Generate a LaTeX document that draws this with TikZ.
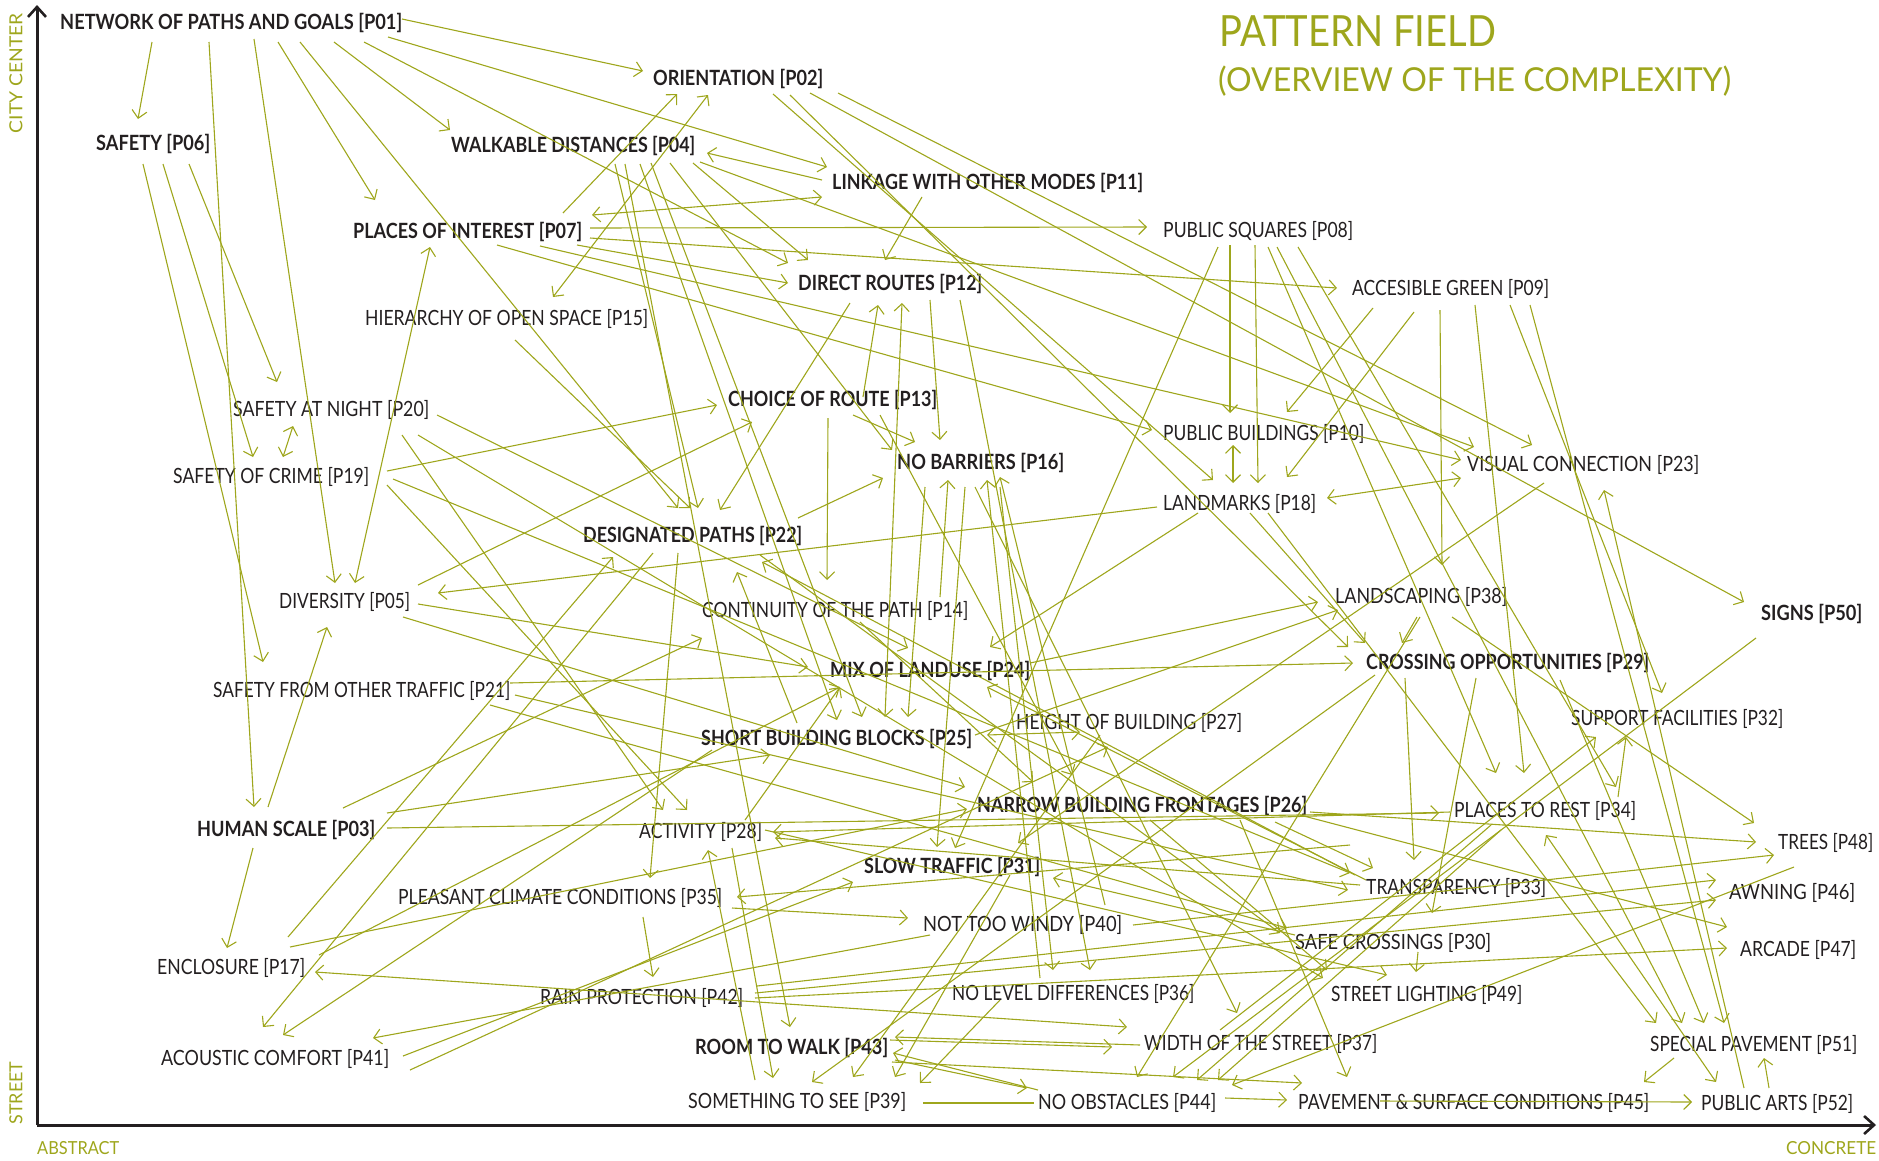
\documentclass[tikz,border=0pt]{standalone}
\usepackage{fontspec}
\setmainfont{Lato}
\usepackage{graphicx}
\usetikzlibrary{arrows.meta}

\definecolor{pfolive}{RGB}{158,166,28}
\definecolor{pftext}{RGB}{35,31,32}

% set a label at its natural height, stretched or squeezed to a given width
\newsavebox\pfbox
\newlength\pfwd
\newcommand\fitto[2]{\sbox\pfbox{#2}\setlength\pfwd{\wd\pfbox}%
  \pgfmathsetmacro\pfscale{#1/\pfwd}\scalebox{\pfscale}[1]{\usebox\pfbox}}

% one-way and two-way links between points of the field
\newcommand\pfa[2]{\draw[link] (#1) -- (#2);}
\newcommand\pfd[2]{\draw[dlink] (#1) -- (#2);}

\tikzset{
  lbl/.style={inner sep=0pt, anchor=base west, text=pftext,
    font=\fontsize{21}{25}\selectfont},
  blbl/.style={lbl, font=\fontsize{21}{25}\selectfont\bfseries},
  axlbl/.style={inner sep=0pt, text=pfolive, font=\fontsize{18}{22}\selectfont},
  link/.style={draw=pfolive, line width=1.1pt,
    -{Straight Barb[length=7.5pt,width=15pt,line width=1.1pt]}},
  dlink/.style={draw=pfolive, line width=1.1pt,
    {Straight Barb[length=7.5pt,width=15pt,line width=1.1pt]}-{Straight Barb[length=7.5pt,width=15pt,line width=1.1pt]}},
  plain/.style={draw=pfolive, line width=1.1pt},
  axis/.style={draw=pftext, line width=3pt,
    -{Straight Barb[length=10pt,width=18pt,line width=2.6pt]}},
}

\begin{document}
\begin{tikzpicture}[x=1pt,y=-1pt]
\useasboundingbox (0,0) rectangle (1879,1160);

% axes
\coordinate (origin) at (37,1125);
\coordinate (ytop) at (37,5);
\coordinate (xend) at (1876,1125);
\draw[axis] (origin) -- (ytop);
\draw[axis] (origin) -- (xend);
\node[axlbl, rotate=90] (citycenter) at (16,73) {\fitto{120}{CITY CENTER}};
\node[axlbl, rotate=90] (street) at (16,1093) {\fitto{63}{STREET}};
\node[axlbl, anchor=base west] (abstract) at (37,1154.5) {\fitto{82}{ABSTRACT}};
\node[axlbl, anchor=base west] (concrete) at (1786,1154.5) {\fitto{90}{CONCRETE}};

% title
\node[inner sep=0pt, anchor=base west, text=pfolive, font=\fontsize{43}{48}\selectfont]
  (title) at (1219,46) {\fitto{277}{PATTERN FIELD}};
\node[inner sep=0pt, anchor=base west, text=pfolive, font=\fontsize{33}{38}\selectfont]
  (subtitle) at (1218,91) {\fitto{513}{(OVERVIEW OF THE COMPLEXITY)}};

% patterns
\node[blbl] (p01) at (60,29.5)    {\fitto{342}{NETWORK OF PATHS AND GOALS [P01]}};
\node[blbl] (p02) at (653,85.5)   {\fitto{170}{ORIENTATION [P02]}};
\node[blbl] (p03) at (197,836.5)  {\fitto{178}{HUMAN SCALE [P03]}};
\node[blbl] (p04) at (451,152.5)  {\fitto{244}{WALKABLE DISTANCES [P04]}};
\node[lbl]  (p05) at (279,608.5)  {\fitto{131}{DIVERSITY [P05]}};
\node[blbl] (p06) at (96,150.5)   {\fitto{114}{SAFETY [P06]}};
\node[blbl] (p07) at (353,238.5)  {\fitto{229}{PLACES OF INTEREST [P07]}};
\node[lbl]  (p08) at (1163,237.5) {\fitto{190}{PUBLIC SQUARES [P08]}};
\node[lbl]  (p09) at (1352,295.5) {\fitto{197}{ACCESIBLE GREEN [P09]}};
\node[lbl]  (p10) at (1163,440.5) {\fitto{201}{PUBLIC BUILDINGS [P10]}};
\node[blbl] (p11) at (832,189.5)  {\fitto{311}{LINKAGE WITH OTHER MODES [P11]}};
\node[blbl] (p12) at (798,290.5)  {\fitto{184}{DIRECT ROUTES [P12]}};
\node[blbl] (p13) at (728,406.5)  {\fitto{209}{CHOICE OF ROUTE [P13]}};
\node[lbl]  (p14) at (702,617.5)  {\fitto{266}{CONTINUITY OF THE PATH [P14]}};
\node[lbl]  (p15) at (365,325.5)  {\fitto{283}{HIERARCHY OF OPEN SPACE [P15]}};
\node[blbl] (p16) at (897,469.5)  {\fitto{167}{NO BARRIERS [P16]}};
\node[lbl]  (p17) at (157,974.5)  {\fitto{148}{ENCLOSURE [P17]}};
\node[lbl]  (p18) at (1163,510.5) {\fitto{153}{LANDMARKS [P18]}};
\node[lbl]  (p19) at (173,483.5)  {\fitto{196}{SAFETY OF CRIME [P19]}};
\node[lbl]  (p20) at (233,416.5)  {\fitto{196}{SAFETY AT NIGHT [P20]}};
\node[lbl]  (p21) at (213,697.5)  {\fitto{297}{SAFETY FROM OTHER TRAFFIC [P21]}};
\node[blbl] (p22) at (583,542.5)  {\fitto{219}{DESIGNATED PATHS [P22]}};
\node[lbl]  (p23) at (1467,471.5) {\fitto{232}{VISUAL CONNECTION [P23]}};
\node[blbl] (p24) at (830,677.5)  {\fitto{200}{MIX OF LANDUSE [P24]}};
\node[blbl] (p25) at (701,745.5)  {\fitto{271}{SHORT BUILDING BLOCKS [P25]}};
\node[blbl] (p26) at (977,812.5)  {\fitto{330}{NARROW BUILDING FRONTAGES [P26]}};
\node[lbl]  (p27) at (1016,729.5) {\fitto{226}{HEIGHT OF BUILDING [P27]}};
\node[lbl]  (p28) at (639,838.5)  {\fitto{123}{ACTIVITY [P28]}};
\node[blbl] (p29) at (1366,669.5) {\fitto{283}{CROSSING OPPORTUNITIES [P29]}};
\node[lbl]  (p30) at (1295,949.5) {\fitto{196}{SAFE CROSSINGS [P30]}};
\node[blbl] (p31) at (864,873.5)  {\fitto{176}{SLOW TRAFFIC [P31]}};
\node[lbl]  (p32) at (1571,725.5) {\fitto{212}{SUPPORT FACILITIES [P32]}};
\node[lbl]  (p33) at (1366,894.5) {\fitto{180}{TRANSPARENCY [P33]}};
\node[lbl]  (p34) at (1454,817.5) {\fitto{182}{PLACES TO REST [P34]}};
\node[lbl]  (p35) at (398,904.5)  {\fitto{324}{PLEASANT CLIMATE CONDITIONS [P35]}};
\node[lbl]  (p36) at (952,1000.5) {\fitto{242}{NO LEVEL DIFFERENCES [P36]}};
\node[lbl]  (p37) at (1144,1050.5){\fitto{233}{WIDTH OF THE STREET [P37]}};
\node[lbl]  (p38) at (1335,603.5) {\fitto{172}{LANDSCAPING [P38]}};
\node[lbl]  (p39) at (688,1108.5) {\fitto{218}{SOMETHING TO SEE [P39]}};
\node[lbl]  (p40) at (923,931.5)  {\fitto{199}{NOT TOO WINDY [P40]}};
\node[lbl]  (p41) at (161,1065.5) {\fitto{228}{ACOUSTIC COMFORT [P41]}};
\node[lbl]  (p42) at (540,1004.5) {\fitto{203}{RAIN PROTECTION [P42]}};
\node[blbl] (p43) at (695,1054.5) {\fitto{193}{ROOM TO WALK [P43]}};
\node[lbl]  (p44) at (1038,1109.5){\fitto{178}{NO OBSTACLES [P44]}};
\node[lbl]  (p45) at (1298,1109.5){\fitto{351}{PAVEMENT \& SURFACE CONDITIONS [P45]}};
\node[lbl]  (p46) at (1729,899.5) {\fitto{126}{AWNING [P46]}};
\node[lbl]  (p47) at (1740,956.5) {\fitto{116}{ARCADE [P47]}};
\node[lbl]  (p48) at (1778,849.5) {\fitto{95}{TREES [P48]}};
\node[lbl]  (p49) at (1331,1001.5){\fitto{191}{STREET LIGHTING [P49]}};
\node[blbl] (p50) at (1761,620.5) {\fitto{101}{SIGNS [P50]}};
\node[lbl]  (p51) at (1650,1051.5){\fitto{207}{SPECIAL PAVEMENT [P51]}};
\node[lbl]  (p52) at (1701,1110.5){\fitto{152}{PUBLIC ARTS [P52]}};

% links out of the network of paths and goals
\pfa{152,42}{138,119}
\pfa{209,42}{254,807}
\pfa{254,39}{335,583}
\pfa{278,42}{375,200}
\pfa{300,42}{678,508}
\pfa{334,42}{450,130}
\pfa{364,42}{788,263}
\pfa{388,37}{827,167}
\pfa{402,19}{643,71}
% safety
\pfa{143,164}{263,662}
\pfa{163,164}{253,457}
\pfa{189,164}{277,382}
\pfd{283,457}{293,426}
% places of interest, linkage, walkable distances
\pfd{355,583}{430,247}
\pfa{563,213}{677,94}
\pfd{553,297}{708,95}
\pfd{592,215}{822,197}
\pfa{590,228}{1147,227}
\pfa{590,238}{1337,288}
\pfa{577,245}{788,283}
\pfa{497,245}{1152,430}
\pfa{540,246}{1461,460}
\pfa{822,180}{707,153}
\pfa{922,197}{885,260}
\pfa{693,163}{808,260}
\pfa{615,164}{698,508}
\pfa{625,164}{790,1027}
\pfa{640,164}{837,720}
\pfa{651,163}{862,717}
\pfa{670,163}{892,450}
\pfa{700,162}{1474,447}
\pfa{515,340}{690,508}
% orientation
\pfa{838,93}{1532,445}
\pfa{810,93}{1744,602}
\pfa{773,94}{1213,480}
\pfa{790,95}{1348,647}
% direct routes, choice of route
\pfa{850,303}{720,510}
\pfa{863,397}{878,305}
\pfd{902,303}{885,717}
\pfa{930,300}{940,440}
\pfa{960,300}{1090,970}
\pfa{853,415}{915,442}
\pfa{828,418}{827,580}
\pfa{880,415}{1072,775}
% safety at night, safety of crime, diversity
\pfa{387,471}{717,405}
\pfa{387,485}{687,810}
\pfa{393,479}{1350,873}
\pfa{437,415}{908,648}
\pfa{418,435}{1323,978}
\pfa{402,435}{663,810}
\pfa{418,585}{752,422}
\pfa{418,604}{808,667}
\pfa{403,617}{965,787}
\pfa{1157,507}{438,593}
% safety from other traffic
\pfa{510,683}{1353,663}
\pfa{515,695}{1348,890}
\pfa{490,705}{1287,928}
% human scale, enclosure, acoustic comfort
\pfa{268,807}{327,627}
\pfa{253,848}{227,948}
\pfa{387,828}{1439,813}
\pfa{343,808}{702,638}
\pfa{387,813}{770,755}
\pfd{315,972}{1127,1027}
\pfa{288,937}{613,557}
\pfa{290,947}{967,809}
\pfa{319,955}{840,687}
\pfa{653,553}{263,1027}
\pfa{712,750}{283,1035}
\pfa{930,935}{373,1038}
\pfa{403,1056}{853,882}
\pfa{410,1070}{1108,747}
% designated paths, continuity, no barriers
\pfa{798,518}{883,478}
\pfa{678,553}{650,878}
\pfa{760,555}{1280,933}
\pfa{860,622}{1033,782}
\pfa{797,723}{737,572}
\pfa{1355,875}{762,562}
\pfa{925,487}{908,717}
\pfa{940,597}{948,480}
\pfa{1040,978}{987,480}
\pfa{1105,905}{1000,477}
\pfa{965,487}{937,847}
\pfa{1000,487}{1053,970}
\pfa{975,487}{1237,1013}
% public squares, accessible green, public buildings, landmarks
\pfa{1230,245}{1230,413}
\pfa{1373,308}{1287,412}
\pfd{1233,445}{1233,483}
\pfa{1255,245}{1258,483}
\pfa{1414,312}{1287,477}
\pfd{1327,498}{1461,478}
\pfa{1198,513}{990,647}
\pfa{1218,247}{955,848}
\pfa{1250,513}{1365,643}
\pfa{1268,513}{1656,1023}
\pfa{1268,247}{1496,773}
\pfa{1277,247}{1682,1023}
\pfa{1298,247}{1616,787}
\pfa{1440,310}{1442,565}
\pfa{1510,305}{1662,693}
\pfa{1475,305}{1524,773}
\pfa{1530,305}{1724,1023}
% mix of landuse, short blocks, height of building
\pfa{1366,880}{987,687}
\pfa{1030,663}{1318,602}
\pfa{975,735}{1338,610}
\pfd{987,735}{1080,732}
\pfa{745,820}{840,687}
% visual connection, landscaping, signs, crossing opportunities
\pfa{1544,483}{1018,843}
\pfa{1417,617}{1402,643}
\pfa{1452,617}{1754,823}
\pfa{1420,617}{1137,1077}
\pfa{1756,638}{1173,1077}
\pfa{1744,1088}{1604,490}
\pfa{1476,678}{1432,913}
\pfa{1405,678}{1414,860}
\pfa{1560,680}{1704,1023}
\pfa{1418,952}{1416,972}
% places to rest, special pavement, public arts
\pfd{1546,835}{1716,1082}
\pfa{1674,1058}{1644,1082}
\pfa{1769,1088}{1764,1058}
\pfa{1380,1101}{1692,1102}
\pfa{1220,1030}{1596,737}
\pfa{1618,797}{1626,737}
\pfa{1491,825}{1197,1080}
\pfa{1501,830}{1218,1080}
\pfa{1794,867}{1232,1085}
% narrow frontages, transparency, furniture
\pfa{1310,812}{1756,842}
\pfa{1300,815}{1727,927}
\pfa{1275,822}{1373,868}
\pfa{1150,820}{1327,970}
\pfa{1240,820}{1347,1077}
\pfa{1133,925}{1774,855}
\pfa{1295,935}{1053,878}
\pfa{1450,812}{773,832}
\pfa{1360,885}{775,838}
\pfa{1350,845}{737,897}
% rain protection, activity
\pfa{757,986}{1716,880}
\pfa{755,993}{1716,900}
\pfa{755,998}{1727,948}
\pfa{765,830}{1387,975}
\pfa{755,1080}{708,850}
\pfa{732,848}{773,1078}
\pfa{643,917}{653,977}
\pfa{732,908}{908,918}
% room to walk, something to see, no obstacles
\pfa{895,1060}{1027,1088}
\draw[plain] (923,1103) -- (1034,1103);
\pfa{1225,1098}{1287,1100}
\pfa{892,1062}{1302,1083}
\pfa{890,1040}{1112,1047}
\pfa{1375,675}{812,1082}
\pfa{1100,735}{853,1077}
\pfa{1010,875}{895,1077}
\pfa{1000,1000}{920,1083}
\pfa{1140,1045}{895,1037}
\pfa{1038,1090}{893,1053}

\end{tikzpicture}
\end{document}
